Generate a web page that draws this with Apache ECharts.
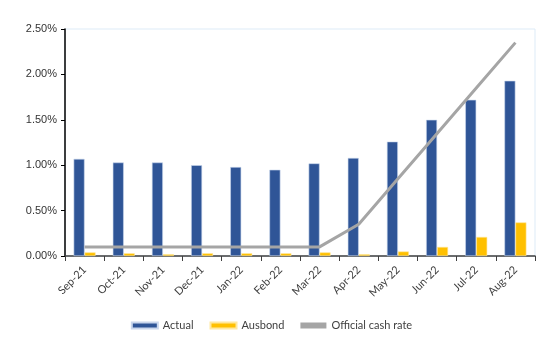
<!DOCTYPE html>
<html><head><meta charset="utf-8">
<script src="https://cdn.jsdelivr.net/npm/echarts@6/dist/echarts.min.js"></script>
<style>html,body{margin:0;padding:0;background:#fff}#c{width:543px;height:345px}</style>
</head><body><div id="c"></div>
<script>
var categories = ['Sep-21','Oct-21','Nov-21','Dec-21','Jan-22','Feb-22','Mar-22','Apr-22','May-22','Jun-22','Jul-22','Aug-22'];
var actual = [1.07,1.03,1.03,1.00,0.98,0.95,1.02,1.08,1.26,1.50,1.72,1.93];
var ausbond = [0.04,0.03,0.02,0.03,0.03,0.03,0.04,0.02,0.05,0.10,0.21,0.37];
var cashRate = [0.10,0.10,0.10,0.10,0.10,0.10,0.10,0.35,0.85,1.35,1.85,2.35];
var yTicks = [0,0.5,1.0,1.5,2.0,2.5];

var chart = echarts.init(document.getElementById('c'));
chart.setOption({
  animation:false,
  grid:{left:65,right:8,top:29,bottom:89,show:true,borderColor:'#DDEBF7',borderWidth:1},
  legend:{
    bottom:9,left:'center',itemWidth:26,itemHeight:6,itemGap:16,
    textStyle:{fontFamily:'Lato',fontSize:11,color:'#404040'},
    data:[{name:'Actual',icon:'rect'},{name:'Ausbond',icon:'rect'},{name:'Official cash rate',icon:'rect'}]
  },
  xAxis:{
    type:'category',data:categories,
    axisLine:{lineStyle:{color:'#404040',width:1.5}},
    axisTick:{show:true,alignWithLabel:false,length:5,lineStyle:{color:'#404040'}},
    axisLabel:{rotate:45,fontFamily:'Lato',fontSize:11,color:'#404040',margin:12,interval:0}
  },
  yAxis:{
    type:'value',min:0,max:yTicks[yTicks.length-1],interval:0.5,
    axisLine:{show:true,lineStyle:{color:'#000',width:1.5}},
    axisTick:{show:true,length:4,lineStyle:{color:'#000'}},
    splitLine:{show:false},
    axisLabel:{fontFamily:'Liberation Sans',fontSize:11,color:'#333',margin:8,
      formatter:function(v){return v.toFixed(2)+'%';}}
  },
  series:[
    {name:'Actual',type:'bar',data:actual,barWidth:11,barGap:'0%',
     itemStyle:{color:'#2F5597',borderColor:'#C9D6EC',borderWidth:0.6}},
    {name:'Ausbond',type:'bar',data:ausbond,barWidth:11,
     itemStyle:{color:'#FFC000',borderColor:'#FFE8A0',borderWidth:0.6}},
    {name:'Official cash rate',type:'line',data:cashRate,symbol:'none',
     lineStyle:{color:'#A5A5A5',width:3},itemStyle:{color:'#A5A5A5'}}
  ]
});
</script></body></html>
